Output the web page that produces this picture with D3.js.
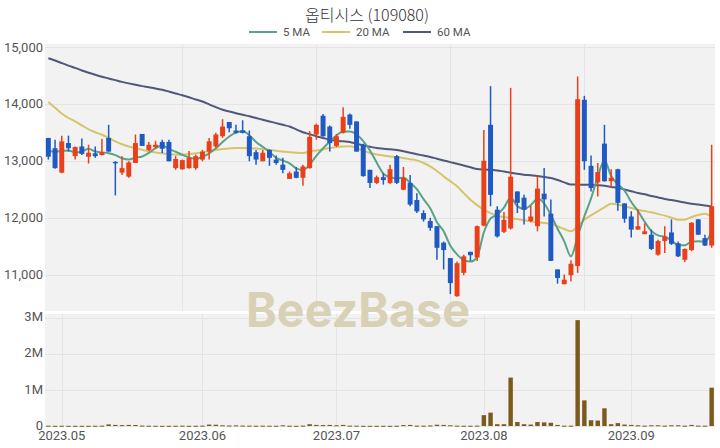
<!DOCTYPE html>
<html><head><meta charset="utf-8">
<script src="https://cdn.jsdelivr.net/npm/d3@7"></script>
<style>body{margin:0;background:#fff}svg{display:block}</style>
</head><body>
<svg id="chart" width="720" height="448"></svg>
<script>
// ---------------- data ----------------
const title = "옵티시스 (109080)";
const xTickLabels = ["2023.05","2023.06","2023.07","2023.08","2023.09"];
const xTickIndex  = [2, 23, 43, 65, 87];
const priceTicks = [11000, 12000, 13000, 14000, 15000];
const volTicks = [0, 1000000, 2000000, 3000000];
const volTickLabels = ["0", "1M", "2M", "3M"];
const legendLabels = ["5 MA", "20 MA", "60 MA"];

const open = [13400,13220,12790,13310,13080,13250,13070,13130,13100,13400,
  12980,12790,12720,12960,13470,13190,13240,13330,13330,12870,
  12850,12870,12870,13020,13160,13250,13430,13680,13530,13530,
  13430,13150,12990,13190,13020,12930,12680,12810,12700,12870,
  13460,13790,13600,13260,13490,13810,13690,13280,12840,12610,
  12710,12610,13080,12490,12610,12310,12080,11940,11850,11560,
  11290,10620,11030,11400,11300,11860,13630,12140,11750,11810,
  12460,12350,11940,11850,12420,12070,11090,10830,10990,11150,
  14070,12910,12620,13300,12640,12850,12250,12020,11790,11710,
  11700,11350,11590,11740,11550,11260,11430,11970,11640,11510];
const high = [13400,13370,13440,13440,13250,13390,13280,13250,13380,13630,
  12990,13080,12990,13460,13470,13330,13350,13370,13370,13080,
  13020,13170,13110,13190,13400,13490,13730,13680,13630,13710,
  13530,13190,13190,13200,13090,13050,12810,12890,12930,13520,
  13650,13820,13620,13470,13940,13830,13690,13300,12840,12740,
  12780,12930,13100,12890,12750,12430,12130,12000,11850,11580,
  11290,11230,11350,11400,11860,13540,14310,12200,12100,14280,
  12460,12400,12210,12740,12870,12320,11090,11000,11250,14480,
  14140,13090,12960,13630,12850,12860,12250,12110,12140,11900,
  11790,11610,11850,11970,11580,11460,11920,11970,11700,13280];
const low = [13020,12860,12780,13160,13020,13100,12950,13050,13090,13160,
  12390,12750,12700,12960,13260,13170,13210,13135,12990,12840,
  12840,12860,12840,12990,13020,13220,13400,13500,13480,13480,
  12990,12930,12990,12910,12930,12780,12680,12690,12560,12860,
  13370,13420,13160,13240,13480,13560,13160,12720,12520,12590,
  12580,12590,12590,12480,12200,12080,11930,11770,11260,11090,
  10660,10610,10990,11240,11240,11850,12200,11650,11730,11790,
  12080,11880,11920,11760,12020,11240,10840,10830,10880,11030,
  12840,12460,12370,12630,12530,12120,11910,11650,11790,11710,
  11430,11330,11380,11520,11310,11220,11410,11700,11500,11470];
const close = [13070,12870,13340,13220,13240,13120,13140,13080,13150,13160,
  12960,12870,12970,13310,13260,13280,13280,13210,12990,13030,
  13010,13050,13080,13160,13340,13460,13600,13570,13490,13490,
  13080,13020,13140,13050,12960,12840,12780,12700,12900,13420,
  13630,13430,13310,13430,13770,13630,13160,12730,12610,12710,
  12660,12850,12610,12700,12230,12110,11970,11820,11470,11430,
  10850,11200,11320,11340,11850,13000,12400,11670,11960,12720,
  12260,12140,12020,12510,12320,11240,10940,10910,11190,14080,
  12990,12520,12800,12640,12700,12260,11980,11790,11850,11760,
  11450,11590,11670,11540,11320,11450,11910,11700,11510,12200];
const volume = [8000,6000,7000,5000,6000,5000,6000,8000,10000,45000,
  30000,25000,30000,28000,12000,8000,6000,5000,6000,7000,
  8000,6000,7000,10000,40000,35000,20000,15000,18000,12000,
  10000,8000,9000,8000,7000,20000,8000,6000,10000,50000,
  30000,25000,30000,20000,30000,10000,8000,6000,5000,5000,
  6000,5000,8000,25000,30000,10000,8000,15000,35000,30000,
  20000,10000,8000,7000,10000,300000,370000,50000,50000,1340000,
  110000,50000,40000,110000,100000,90000,30000,10000,10000,2930000,
  710000,160000,150000,490000,50000,80000,40000,30000,20000,10000,
  20000,20000,10000,20000,20000,10000,30000,10000,10000,1060000];
const ma5 = [13170,13160,13170,13180,13148,13158,13212,13160,13146,13130,
  13098,13044,13022,13054,13074,13138,13220,13268,13204,13158,
  13104,13058,13032,13066,13128,13218,13328,13426,13492,13522,
  13446,13330,13244,13156,13050,13002,12954,12866,12836,12928,
  13086,13216,13338,13444,13514,13514,13460,13344,13180,12968,
  12774,12712,12688,12706,12610,12500,12324,12166,11920,11760,
  11508,11354,11254,11228,11312,11742,11982,12052,12176,12350,
  12202,12150,12220,12330,12250,12046,11806,11584,11320,11672,
  12022,12338,12716,13006,12730,12584,12476,12274,12116,11928,
  11766,11688,11664,11602,11514,11514,11578,11584,11578,11754];
const ma20 = [14030,13930,13830,13750,13690,13620,13550,13500,13456,13400,
  13340,13290,13250,13222,13190,13165,13146,13130,13115,13105,
  13105,13115,13130,13146,13170,13190,13205,13215,13222,13222,
  13220,13215,13205,13190,13175,13163,13150,13140,13135,13160,
  13180,13200,13222,13240,13251,13255,13222,13175,13135,13110,
  13090,13075,13065,13045,13025,13006,12960,12900,12820,12725,
  12640,12550,12430,12316,12220,12140,12080,12035,12010,11995,
  11975,11953,11936,11918,11906,11895,11848,11800,11760,11848,
  11965,12040,12111,12180,12245,12230,12198,12170,12140,12115,
  12093,12065,12035,12000,11965,11965,12012,12045,12070,12023];
const ma60 = [14800,14760,14715,14670,14630,14585,14545,14509,14475,14445,
  14415,14385,14358,14333,14310,14290,14268,14246,14215,14180,
  14150,14115,14075,14040,13990,13940,13895,13865,13835,13807,
  13780,13750,13720,13690,13660,13630,13600,13550,13500,13465,
  13430,13400,13368,13350,13340,13330,13298,13270,13245,13222,
  13210,13200,13190,13165,13140,13115,13090,13065,13035,13005,
  12975,12945,12915,12885,12854,12845,12838,12830,12810,12790,
  12772,12754,12745,12730,12714,12696,12660,12620,12580,12580,
  12579,12575,12570,12561,12540,12521,12495,12465,12433,12410,
  12380,12355,12328,12308,12287,12266,12245,12230,12215,12198];

// ---------------- layout ----------------
const L = 45, R = 715;
const pTop = 44, pBot = 311, vTop = 314, vBot = 426;
const UP = "#ea4019", DOWN = "#1f59c4";
const maColors = ["#5aa287", "#d6c46a", "#4f5977"];
const VOLC = "#7a5b1d";
const BG = "#f2f2f2", GRID = "#e4e4e4";
const FONT = "Roboto, 'Noto Sans', sans-serif";

const n = close.length;
const idx = d3.range(n);
const svg = d3.select("#chart");

const x = d3.scaleBand().domain(idx).range([L, R]).padding(0);
const cx = i => x(i) + x.bandwidth() / 2;
const y = d3.scaleLinear().domain([10360, 15050]).range([pBot, pTop]);
const yv = d3.scaleLinear().domain([0, 3100000]).range([vBot, vTop]);

// backgrounds
svg.append("rect").attr("x", L).attr("y", pTop).attr("width", R - L).attr("height", pBot - pTop).attr("fill", BG);
svg.append("rect").attr("x", L).attr("y", vTop).attr("width", R - L).attr("height", vBot - vTop).attr("fill", BG);

// grids
const g = svg.append("g").attr("stroke", GRID).attr("stroke-width", 1);
priceTicks.forEach(t => g.append("line").attr("x1", L).attr("x2", R).attr("y1", Math.round(y(t)) + 0.5).attr("y2", Math.round(y(t)) + 0.5));
d3.range(20, n, 20).forEach(i => g.append("line").attr("x1", Math.round(cx(i)) + 0.5).attr("x2", Math.round(cx(i)) + 0.5).attr("y1", pTop).attr("y2", pBot));
volTicks.forEach(t => g.append("line").attr("x1", L).attr("x2", R).attr("y1", Math.round(yv(t)) + 0.5).attr("y2", Math.round(yv(t)) + 0.5));
xTickIndex.forEach(i => g.append("line").attr("x1", Math.round(cx(i)) + 0.5).attr("x2", Math.round(cx(i)) + 0.5).attr("y1", vTop).attr("y2", vBot));

// watermark
svg.append("text").attr("x", 246).attr("y", 327).attr("textLength", 224).attr("lengthAdjust", "spacingAndGlyphs")
  .attr("font-family", "Inter, Lato, sans-serif").attr("font-weight", 700).attr("font-size", 48)
  .attr("fill", "#d8d1b5").text("BeezBase");

// y axes
const yAxis = d3.axisLeft(y).tickValues(priceTicks).tickSize(0).tickPadding(2).tickFormat(d3.format(","));
const ya = svg.append("g").attr("transform", `translate(${L},0)`).call(yAxis);
const yvAxis = d3.axisLeft(yv).tickValues(volTicks).tickSize(0).tickPadding(2).tickFormat((d, i) => volTickLabels[i]);
const yva = svg.append("g").attr("transform", `translate(${L},0)`).call(yvAxis);
// x axis
const xAxis = d3.axisBottom(x).tickValues(xTickIndex).tickSize(0).tickPadding(5).tickFormat((d, i) => xTickLabels[i]);
const xa = svg.append("g").attr("transform", `translate(0,${vBot})`).call(xAxis);
[ya, yva, xa].forEach(a => {
  a.select(".domain").remove();
  a.selectAll("text").attr("fill", "#555").attr("font-family", FONT).attr("font-size", 13);
});
yva.selectAll("text").attr("dy", "0.25em");

// volume bars
const vbw = x.bandwidth() * 0.66;
svg.append("g").selectAll("rect").data(idx).join("rect")
  .attr("x", i => cx(i) - vbw / 2).attr("width", vbw)
  .attr("y", i => yv(volume[i])).attr("height", i => Math.max(1, yv(0) - yv(volume[i])))
  .attr("fill", VOLC);

// moving averages
const line = arr => d3.line().x((d, i) => cx(i)).y(d => y(d)).curve(d3.curveMonotoneX)(arr);
[ma60, ma20, ma5].forEach((arr, k) => {
  svg.append("path").attr("d", line(arr)).attr("fill", "none")
    .attr("stroke", maColors[2 - k]).attr("stroke-width", 2);
});

// candles
const bw = x.bandwidth() * 0.74;
const cg = svg.append("g");
idx.forEach(i => {
  const col = close[i] >= open[i] ? UP : DOWN;
  cg.append("line").attr("x1", cx(i)).attr("x2", cx(i)).attr("y1", y(high[i])).attr("y2", y(low[i]))
    .attr("stroke", col).attr("stroke-width", 1.5);
  const top = y(Math.max(open[i], close[i])), bot = y(Math.min(open[i], close[i]));
  cg.append("rect").attr("x", cx(i) - bw / 2).attr("width", bw)
    .attr("y", top).attr("height", Math.max(1.5, bot - top)).attr("fill", col);
});

// title
svg.append("text").attr("x", 367).attr("y", 21).attr("text-anchor", "middle")
  .attr("font-family", "'Noto Sans CJK KR', sans-serif").attr("font-weight", 300)
  .attr("font-size", 16).attr("fill", "#333").text(title);

// legend
const legX = [249, 322, 403];
legendLabels.forEach((lab, k) => {
  svg.append("line").attr("x1", legX[k]).attr("x2", legX[k] + 28).attr("y1", 32).attr("y2", 32)
    .attr("stroke", maColors[k]).attr("stroke-width", 2);
  svg.append("text").attr("x", legX[k] + 34).attr("y", 36).attr("font-family", FONT)
    .attr("font-size", 11.5).attr("fill", "#555").text(lab);
});
</script>
</body></html>
